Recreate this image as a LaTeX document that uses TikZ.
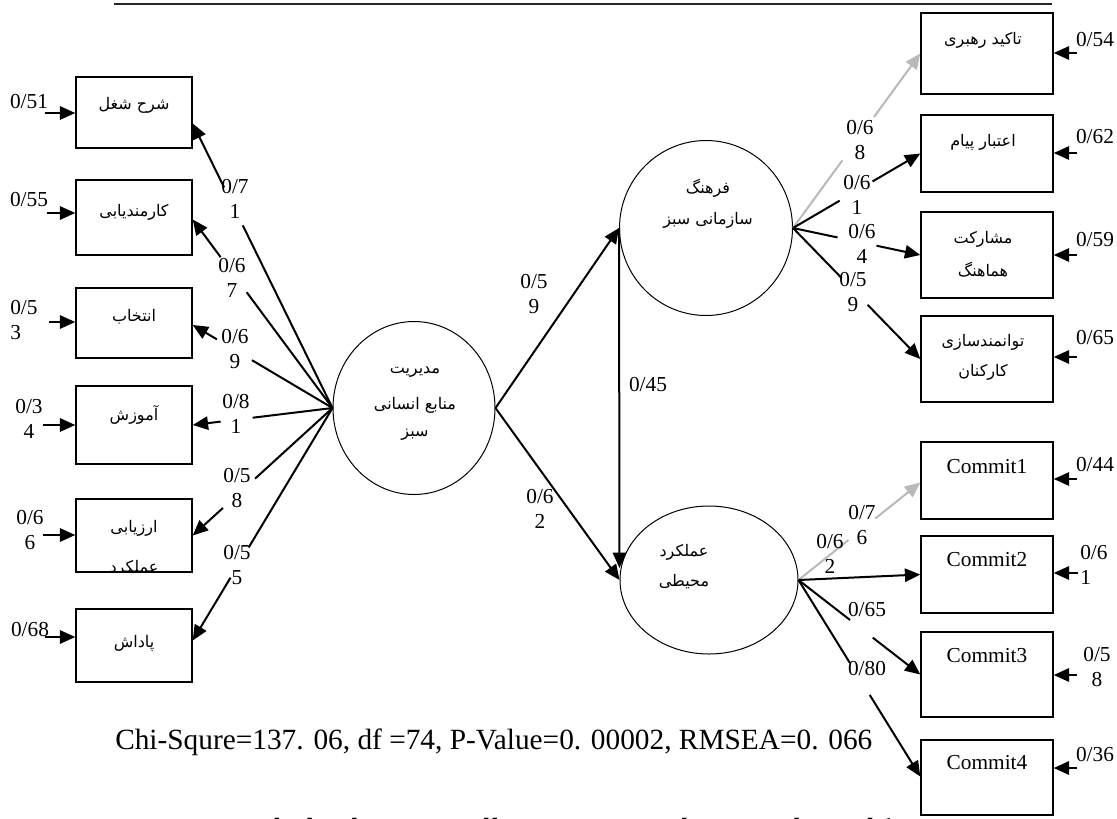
\documentclass[tikz,border=0pt]{standalone}
\usepackage{fontspec}
\setmainfont{Liberation Serif}
\newfontfamily\fa[Script=Arabic]{DejaVu Sans}
\TeXXeTstate=1
\usetikzlibrary{arrows.meta,shapes.geometric,fit,calc}
\newcommand\fat[1]{{\fa\beginR #1\endR}}
\begin{document}
\begin{tikzpicture}[x=0.75pt,y=-0.75pt,
  box/.style={draw, line width=1.1pt, inner sep=0pt},
  latent/.style={draw, ellipse, line width=0.75pt, inner sep=0pt},
  lab/.style={font=\fontsize{16}{18.5}\selectfont, align=center, inner sep=0pt},
  labl/.style={lab, align=left},
  ptext/.style={font=\fa\fontsize{12}{14}\selectfont, inner sep=0pt, align=center},
  conn/.style={line width=1.5pt},
  arr/.style={conn, -{Triangle[length=11.5pt,width=10pt]}},
  gconn/.style={conn, draw=gray!55},
  garr/.style={arr, draw=gray!55}]
\useasboundingbox (0,0) rectangle (1117,818);
\fill[white] (0,0) rectangle (1117,818);
% top rule
\draw[line width=2pt, black!85] (114,4) -- (1052,4);

% left indicator boxes
\node[box, fit={(76,77)(192,148)}] (b1) {};
\node[box, fit={(76,180)(192,255)}] (b2) {};
\node[box, fit={(76,288)(192,358)}] (b3) {};
\node[box, fit={(76,386)(192,464)}] (b4) {};
\node[box, fit={(76,499)(192,572)}] (b5) {};
\node[box, fit={(76,609)(192,682)}] (b6) {};
\node[ptext] (tb1) at (134,105) {\fat{شرح شغل}};
\node[ptext] (tb2) at (134,212) {\fat{کارمندیابی}};
\node[ptext] (tb3) at (134,317) {\fat{انتخاب}};
\node[ptext] (tb4) at (134,415) {\fat{آموزش}};
\node[ptext] (tb5) at (134,528) {\fat{ارزیابی}};
\begin{scope}
\clip (b5.south west) rectangle (b5.north east);
\node[ptext] (tb5b) at (134,568) {\fat{عملکرد}};
\end{scope}
\node[ptext] (tb6) at (134,643) {\fat{پاداش}};

% right indicator boxes
\node[box, fit={(921,13)(1053,94)}] (r1) {};
\node[box, fit={(921,115)(1053,192)}] (r2) {};
\node[box, fit={(921,212)(1053,298)}] (r3) {};
\node[box, fit={(921,316)(1053,402)}] (r4) {};
\node[box, fit={(921,442)(1053,519)}] (c1) {};
\node[box, fit={(921,536)(1053,613)}] (c2) {};
\node[box, fit={(921,632)(1053,717)}] (c3) {};
\node[box, fit={(921,740)(1053,815)}] (c4) {};
\node[ptext] (tr1) at (983,40) {\fat{تاکید رهبری}};
\node[ptext] (tr2) at (983,142) {\fat{اعتبار پیام}};
\node[ptext] (tr3) at (983,239) {\fat{مشارکت}};
\node[ptext] (tr3b) at (983,270) {\fat{هماهنگ}};
\node[ptext] (tr4) at (983,342) {\fat{توانمندسازی}};
\node[ptext] (tr4b) at (983,372) {\fat{کارکنان}};
\node[lab] (tc1) at (987,467) {Commit1};
\node[lab] (tc2) at (987,560) {Commit2};
\node[lab] (tc3) at (987,656) {Commit3};
\node[lab] (tc4) at (987,763) {Commit4};

% latent variables
\node[latent, minimum width=121.5pt, minimum height=129.75pt] (hrm) at (414,408) {};
\node[latent, minimum width=129.75pt, minimum height=131.25pt] (cul) at (706,228) {};
\node[latent, minimum width=133.5pt, minimum height=111pt] (env) at (709,580) {};
\node[ptext] (thrm1) at (415,372) {\fat{مدیریت}};
\node[ptext] (thrm2) at (415,405) {\fat{منابع انسانی}};
\node[ptext] (thrm3) at (415,435) {\fat{سبز}};
\node[ptext] (tcul1) at (708,188) {\fat{فرهنگ}};
\node[ptext] (tcul2) at (708,220) {\fat{سازمانی سبز}};
\node[ptext] (tenv1) at (684,552) {\fat{عملکرد}};
\node[ptext] (tenv2) at (684,582) {\fat{محیطی}};

% structural paths
\draw[arr] (hrm.east) -- (cul.west);
\draw[arr] (hrm.east) -- (env.west);
\coordinate (envtop) at ($(env.west)+(0,-12)$);
\draw[arr] (cul.west) -- (envtop);
\node[lab] (lm1) at (534,294) {0/5\\9};
\node[lab] (lm2) at (540,509) {0/6\\2};
\node[lab] (lm3) at (648,385) {0/45};

% left loadings
\coordinate (t1) at ($(b1.east)+(0,11)$);
\coordinate (t2) at ($(b2.east)+(0,2)$);
\coordinate (t3) at ($(b3.east)+(0,2)$);
\coordinate (t4) at (b4.east);
\coordinate (t5) at (b5.east);
\coordinate (t6) at ($(b6.east)+(0,-5)$);
\draw[conn] (hrm.west) -- ($(hrm.west)!0.642!(t1)$);
\draw[arr] ($(hrm.west)!0.775!(t1)$) -- (t1);
\draw[conn] (hrm.west) -- ($(hrm.west)!0.614!(t2)$);
\draw[arr] ($(hrm.west)!0.80!(t2)$) -- (t2);
\draw[conn] (hrm.west) -- ($(hrm.west)!0.576!(t3)$);
\draw[arr] ($(hrm.west)!0.827!(t3)$) -- (t3);
\draw[conn] (hrm.west) -- ($(hrm.west)!0.571!(t4)$);
\draw[arr] ($(hrm.west)!0.80!(t4)$) -- (t4);
\draw[conn] (hrm.west) -- ($(hrm.west)!0.554!(t5)$);
\draw[arr] ($(hrm.west)!0.784!(t5)$) -- (t5);
\draw[conn] (hrm.west) -- ($(hrm.west)!0.60!(t6)$);
\draw[arr] ($(hrm.west)!0.73!(t6)$) -- (t6);
\node[lab] (l1) at (235,199) {0/7\\1};
\node[lab] (l2) at (232,278) {0/6\\7};
\node[lab] (l3) at (235,349) {0/6\\9};
\node[lab] (l4) at (236,414) {0/8\\1};
\node[lab] (l5) at (237,488) {0/5\\8};
\node[lab] (l6) at (237,565) {0/5\\5};

% left errors
\coordinate (e1) at (45,113);
\coordinate (e2) at (47,213);
\coordinate (e3) at (49,322);
\coordinate (e4) at (43,425);
\coordinate (e5) at (43,535);
\coordinate (e6) at (45,637);
\draw[arr] (e1) -- (e1 -| b1.west);
\draw[arr] (e2) -- (e2 -| b2.west);
\draw[arr] (e3) -- (e3 -| b3.west);
\draw[arr] (e4) -- (e4 -| b4.west);
\draw[arr] (e5) -- (e5 -| b5.west);
\draw[arr] (e6) -- (e6 -| b6.west);
\node[lab] (el1) at (29,102) {0/51};
\node[lab] (el2) at (29,200) {0/55};
\node[labl, anchor=west] (el3) at (10,320) {0/5\\3};
\node[lab] (el4) at (29,419) {0/3\\4};
\node[lab] (el5) at (30,530) {0/6\\6};
\node[lab] (el6) at (30,629) {0/68};

% culture loadings
\draw[gconn] (cul.east) -- ($(cul.east)!0.388!(r1.west)$);
\draw[garr] ($(cul.east)!0.636!(r1.west)$) -- (r1.west);
\draw[conn] (cul.east) -- ($(cul.east)!0.367!(r2.west)$);
\draw[arr] ($(cul.east)!0.625!(r2.west)$) -- (r2.west);
\draw[conn] (cul.east) -- ($(cul.east)!0.35!(r3.west)$);
\draw[arr] ($(cul.east)!0.656!(r3.west)$) -- (r3.west);
\draw[conn] (cul.east) -- ($(cul.east)!0.383!(r4.west)$);
\draw[arr] ($(cul.east)!0.586!(r4.west)$) -- (r4.west);
\node[lab] (lr1) at (860,140) {0/6\\8};
\node[lab] (lr2) at (857,195) {0/6\\1};
\node[lab] (lr3) at (862,244) {0/6\\4};
\node[lab] (lr4) at (853,292) {0/5\\9};

% environment loadings
\coordinate (tc1p) at ($(c1.west)+(0,2)$);
\coordinate (tc4p) at ($(c4.west)+(0,-1)$);
\draw[gconn] (env.east) -- ($(env.east)!0.41!(tc1p)$);
\draw[garr] ($(env.east)!0.63!(tc1p)$) -- (tc1p);
\draw[arr] (env.east) -- (c2.west);
\draw[conn] (env.east) -- ($(env.east)!0.423!(c3.west)$);
\draw[arr] ($(env.east)!0.61!(c3.west)$) -- (c3.west);
\draw[conn] (env.east) -- ($(env.east)!0.423!(tc4p)$);
\draw[arr] ($(env.east)!0.585!(tc4p)$) -- (tc4p);
\node[lab] (lc1) at (862,525) {0/7\\6};
\node[lab] (lc2) at (830,554) {0/6\\2};
\node[lab] (lc3) at (867,610) {0/65};
\node[lab] (lc4) at (867,668) {0/80};

% right errors
\coordinate (f1) at (1077,53);
\coordinate (f2) at (1077,153);
\coordinate (f3) at (1077,255);
\coordinate (f4) at (1077,357);
\coordinate (g1) at (1077,479);
\coordinate (g2) at (1078,573);
\coordinate (g3) at (1077,675);
\coordinate (g4) at (1077,768);
\draw[arr] (f1) -- (f1 -| r1.east);
\draw[arr] (f2) -- (f2 -| r2.east);
\draw[arr] (f3) -- (f3 -| r3.east);
\draw[arr] (f4) -- (f4 -| r4.east);
\draw[arr] (g1) -- (g1 -| c1.east);
\draw[arr] (g2) -- (g2 -| c2.east);
\draw[arr] (g3) -- (g3 -| c3.east);
\draw[arr] (g4) -- (g4 -| c4.east);
\node[lab] (fl1) at (1095,40) {0/54};
\node[lab] (fl2) at (1095,137) {0/62};
\node[lab] (fl3) at (1095,240) {0/59};
\node[lab] (fl4) at (1095,338) {0/65};
\node[lab] (gl1) at (1095,465) {0/44};
\node[labl, anchor=west] (gl2) at (1080,565) {0/6\\1};
\node[lab] (gl3) at (1097,667) {0/5\\8};
\node[lab] (gl4) at (1095,754) {0/36};

% fit statistics and caption
\node[font=\fontsize{22}{26}\selectfont, inner sep=0pt, anchor=west] (fitstat) at (115,742)
  {Chi-Squre=137. 06, df =74, P-Value=0. 00002, RMSEA=0. 066};
\node[font=\fa\bfseries\fontsize{19}{22}\selectfont, inner sep=0pt, anchor=base] (caption) at (580,837)
  {\fat{شکل شماره ۳- مدل پژوهش در حالت تخمین استاندارد}};
\end{tikzpicture}
\end{document}
